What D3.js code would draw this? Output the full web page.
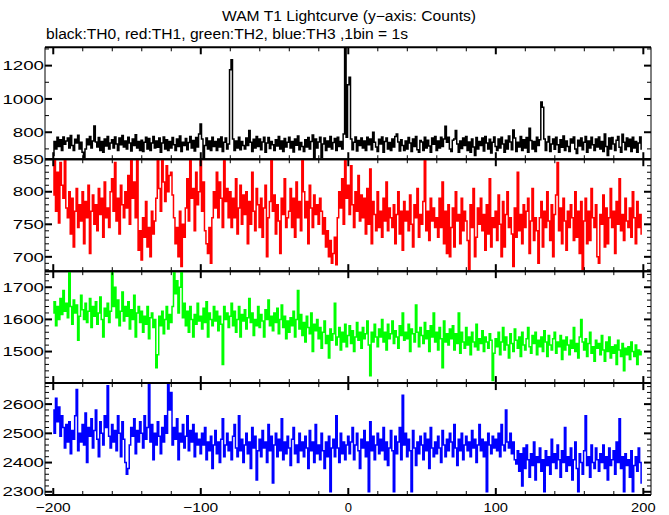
<!DOCTYPE html>
<html><head><meta charset="utf-8">
<script src="https://cdn.jsdelivr.net/npm/d3@7"></script>
<style>body{margin:0;background:#fff}svg{display:block}text{font-family:"Liberation Sans",Arial,Helvetica,sans-serif;fill:#000}</style>
</head><body>
<svg id="c" width="669" height="515"></svg>
<script>
const titleText = "WAM T1 Lightcurve (y\u2212axis: Counts)";
const subtitleText = "black:TH0, red:TH1, green:TH2, blue:TH3 ,1bin = 1s";
const binStart = -200, binSize = 1;
const xTickLabels = [-200, -100, 0, 100, 200];
const th0Labels = [800, 1000, 1200];
const th1Labels = [700, 750, 800, 850];
const th2Labels = [1500, 1600, 1700];
const th3Labels = [2300, 2400, 2500, 2600];

const th0 = [
660,745,700,770,715,755,690,772,728,748,
765,705,780,720,690,758,735,782,700,740,
680,648,700,760,725,775,705,748,838,742,
712,768,690,745,680,760,718,775,700,735,
755,705,772,730,690,765,725,780,712,748,
700,770,735,688,760,720,785,705,745,690,
752,685,740,770,700,762,690,735,775,705,
748,710,765,680,735,772,700,755,690,745,
705,768,725,690,760,715,778,685,740,720,
762,695,738,775,705,750,688,768,712,790,
850,760,644,720,765,700,748,690,770,715,
745,690,760,712,772,685,740,765,700,730,
1175,1235,760,690,748,705,770,695,745,720,
700,765,720,810,740,685,758,705,775,715,
760,695,742,770,680,735,768,702,745,725,
690,755,718,775,700,748,685,762,712,740,
770,705,745,682,760,722,778,695,738,715,
685,755,712,768,700,745,784,644,760,705,
742,770,650,730,765,690,748,712,775,700,
738,762,690,770,715,745,700,790,1420,770,
1085,1130,760,695,740,772,688,750,720,765,
705,748,690,770,725,760,695,800,740,712,
685,758,730,772,680,745,765,700,738,690,
760,712,775,790,742,688,755,720,690,748,
700,768,735,685,760,715,775,695,680,750,
742,690,770,705,752,718,680,765,728,775,
690,748,705,770,715,760,836,740,770,700,
685,752,760,810,730,680,748,702,765,720,
775,690,742,680,760,712,660,768,700,745,
720,765,688,775,735,700,758,675,740,772,
715,690,760,705,770,730,680,752,700,778,
742,695,814,765,685,740,712,775,690,755,
705,768,680,824,750,700,745,685,770,720,
755,982,950,760,690,742,775,685,730,760,
698,770,725,680,755,710,778,690,748,715,
685,760,735,772,700,672,752,718,765,695,
740,775,680,748,705,770,725,690,760,712,
772,700,745,685,790,715,660,765,700,768,
730,690,752,775,710,680,788,740,695,765,
715,758,685,770,705,745,680,735,772,700
];
const th1 = [
795,860,770,830,752,845,810,790,855,775,
760,800,735,790,715,770,805,745,780,755,
800,720,785,760,810,705,770,795,750,780,
740,805,765,790,730,815,760,775,745,800,
820,770,845,755,790,735,810,780,760,800,
775,825,750,860,790,815,760,855,710,740,
695,760,730,785,715,745,700,770,735,755,
790,850,805,770,860,815,785,840,800,825,
830,795,760,720,745,700,770,685,750,730,
775,820,755,850,790,805,740,830,780,800,
850,770,815,740,720,705,745,690,760,800,
775,830,760,815,790,745,850,785,805,760,
800,745,790,760,820,735,775,810,750,795,
765,800,720,785,750,830,770,740,805,780,
745,790,730,775,810,700,760,785,850,770,
795,735,780,755,705,790,765,820,745,760,
770,805,745,790,730,815,760,785,740,850,
800,760,785,720,810,775,745,795,765,780,
750,790,770,735,760,715,740,700,725,690,
705,730,688,760,800,775,820,750,860,790,
810,765,840,780,745,800,770,825,755,795,
760,790,735,805,750,835,720,785,765,740,
800,745,770,730,790,755,815,740,775,760,
745,780,720,765,800,735,770,710,785,755,
770,740,795,750,715,780,760,805,730,765,
750,785,850,740,770,725,790,755,775,745,
760,730,790,745,815,720,770,705,780,700,
745,775,715,800,755,765,720,790,740,770,
755,725,680,780,745,805,700,730,775,750,
790,740,765,710,780,735,820,715,760,745,
770,725,795,750,700,785,715,765,800,745,
760,735,685,775,730,830,740,765,720,780,
745,770,790,705,755,805,725,760,740,690,
760,785,715,770,745,800,755,725,780,700,
765,795,845,740,775,720,790,755,710,770,
745,780,760,725,800,730,770,705,785,680,
755,790,720,770,725,805,760,745,780,700,
690,765,750,795,715,775,720,760,805,745,
770,705,785,750,820,740,765,725,790,755,
745,775,730,800,760,720,785,745,765,735
];
const th2 = [
1620,1655,1580,1640,1600,1665,1615,1690,1625,1650,
1605,1745,1640,1585,1660,1620,1645,1535,1610,1675,
1630,1600,1650,1590,1625,1665,1575,1640,1610,1655,
1585,1620,1670,1600,1545,1635,1610,1650,1590,1625,
1750,1640,1700,1605,1660,1580,1625,1685,1595,1640,
1610,1655,1570,1630,1600,1675,1545,1620,1640,1590,
1625,1560,1610,1585,1640,1540,1605,1620,1575,1600,
1450,1490,1610,1580,1625,1555,1600,1640,1570,1615,
1590,1640,1745,1680,1720,1620,1700,1745,1605,1650,
1580,1625,1560,1640,1600,1545,1615,1585,1650,1595,
1610,1570,1635,1590,1655,1545,1620,1600,1580,1640,
1595,1625,1565,1610,1585,1460,1640,1600,1620,1575,
1610,1650,1580,1625,1560,1600,1640,1545,1615,1595,
1630,1570,1605,1665,1590,1620,1550,1600,1580,1640,
1575,1615,1595,1545,1630,1600,1660,1580,1610,1565,
1620,1590,1635,1555,1600,1645,1575,1610,1540,1595,
1560,1605,1580,1625,1545,1600,1690,1570,1615,1550,
1590,1530,1610,1575,1555,1620,1500,1585,1565,1600,
1540,1575,1510,1560,1595,1525,1550,1480,1570,1535,
1555,1650,1520,1545,1575,1505,1560,1530,1585,1515,
1550,1580,1525,1565,1500,1545,1590,1535,1560,1510,
1575,1540,1555,1595,1520,1425,1560,1530,1585,1545,
1515,1570,1545,1600,1530,1560,1505,1585,1540,1555,
1595,1525,1565,1545,1510,1580,1550,1620,1535,1560,
1540,1585,1500,1570,1555,1530,1645,1560,1515,1575,
1550,1525,1590,1540,1565,1500,1580,1545,1620,1530,
1560,1505,1575,1540,1450,1595,1530,1555,1520,1570,
1540,1580,1505,1555,1525,1620,1495,1560,1530,1510,
1575,1520,1545,1490,1560,1530,1515,1585,1505,1540,
1525,1565,1500,1545,1530,1510,1555,1535,1410,1495,
1540,1515,1560,1490,1530,1575,1505,1545,1520,1480,
1555,1525,1500,1570,1535,1510,1545,1485,1560,1520,
1505,1540,1575,1515,1495,1550,1525,1560,1490,1535,
1515,1545,1500,1565,1530,1485,1550,1520,1505,1540,
1560,1495,1530,1515,1550,1475,1535,1505,1545,1520,
1490,1535,1510,1575,1500,1525,1480,1545,1600,1530,
1505,1540,1485,1525,1560,1495,1515,1470,1535,1510,
1525,1490,1550,1505,1470,1530,1500,1545,1480,1515,
1495,1520,1460,1535,1505,1485,1525,1440,1510,1490,
1515,1475,1530,1500,1485,1520,1460,1505,1490,1500
];
const th3 = [
2580,2500,2620,2540,2590,2490,2560,2520,2450,2530,
2470,2540,2430,2510,2480,2560,2650,2440,2500,2470,
2530,2460,2570,2400,2520,2490,2550,2450,2510,2580,
2480,2420,2540,2500,2460,2560,2520,2663,2490,2450,
2530,2470,2510,2440,2560,2500,2420,2540,2480,2400,
2360,2380,2460,2520,2490,2550,2430,2510,2470,2540,
2500,2450,2560,2480,2520,2671,2470,2530,2410,2500,
2460,2540,2490,2430,2520,2470,2560,2500,2675,2580,
2640,2460,2520,2480,2550,2410,2500,2470,2530,2450,
2490,2560,2440,2510,2470,2530,2420,2500,2460,2480,
2430,2500,2460,2520,2410,2470,2440,2490,2380,2460,
2510,2430,2470,2400,2480,2550,2420,2460,2500,2440,
2470,2410,2490,2530,2450,2420,2560,2440,2480,2400,
2460,2500,2430,2470,2380,2520,2450,2490,2340,2440,
2480,2420,2510,2450,2470,2400,2530,2440,2490,2330,
2460,2500,2420,2480,2440,2550,2410,2470,2430,2490,
2450,2390,2480,2520,2430,2460,2400,2500,2440,2470,
2420,2490,2450,2380,2510,2440,2470,2400,2530,2430,
2460,2410,2500,2440,2380,2470,2420,2490,2300,2450,
2480,2420,2560,2450,2400,2500,2430,2470,2410,2460,
2490,2430,2470,2520,2410,2460,2500,2440,2380,2480,
2450,2510,2420,2470,2300,2540,2440,2490,2410,2460,
2500,2430,2480,2440,2520,2410,2470,2390,2450,2510,
2440,2300,2490,2430,2470,2520,2410,2630,2460,2500,
2420,2480,2440,2300,2510,2450,2390,2470,2430,2490,
2460,2410,2500,2440,2480,2380,2520,2450,2420,2470,
2430,2490,2450,2400,2510,2460,2420,2480,2440,2500,
2470,2420,2530,2450,2390,2480,2440,2500,2410,2460,
2490,2440,2470,2420,2510,2450,2480,2400,2460,2530,
2440,2480,2420,2470,2300,2500,2460,2430,2490,2450,
2480,2440,2500,2420,2530,2460,2440,2580,2470,2450,
2500,2430,2470,2410,2395,2440,2370,2430,2320,2450,
2380,2460,2410,2350,2430,2390,2470,2340,2420,2400,
2450,2370,2410,2300,2440,2390,2420,2360,2480,2400,
2430,2380,2460,2410,2350,2440,2400,2520,2370,2420,
2390,2450,2340,2410,2470,2380,2300,2430,2400,2360,
2440,2560,2390,2420,2350,2460,2400,2380,2450,2410,
2370,2430,2400,2460,2380,2420,2340,2450,2390,2410,
2440,2360,2470,2400,2550,2380,2420,2300,2430,2390,
2410,2350,2440,2300,2390,2420,2370,2450,2400,2330
];

const panels = [
  {values: th0, color: "#000000", domain: [638, 1310], major: 200, minor: 100, labels: th0Labels},
  {values: th1, color: "#ff0000", domain: [678, 850], major: 50, minor: 10, labels: th1Labels},
  {values: th2, color: "#00ff00", domain: [1402, 1750], major: 100, minor: 20, labels: th2Labels},
  {values: th3, color: "#0000ff", domain: [2289, 2672], major: 100, minor: 20, labels: th3Labels}
];

const svg = d3.select("#c");
const L = 45, R = 651, T = 47.3, B = 495;
const ph = (B - T) / panels.length;
const x = d3.scaleLinear().domain([-205.6, 205.2]).range([L, R]);

svg.append("text").attr("x", 349).attr("y", 21).attr("text-anchor", "middle")
  .attr("font-size", 14).attr("textLength", 254).attr("lengthAdjust", "spacingAndGlyphs").text(titleText);
svg.append("text").attr("x", 46).attr("y", 39)
  .attr("font-size", 14).attr("textLength", 362).attr("lengthAdjust", "spacingAndGlyphs").text(subtitleText);

const xMinor = d3.range(-200, 201, 20);
const defs = svg.append("defs");

panels.forEach((p, k) => {
  const top = T + k * ph, bot = top + ph;
  const y = d3.scaleLinear().domain(p.domain).range([bot, top]);
  defs.append("clipPath").attr("id", "clip" + k).append("rect")
    .attr("x", L).attr("y", top).attr("width", R - L).attr("height", ph);
  const line = d3.line()
    .x((d, i) => x(binStart + i * binSize))
    .y(d => y(d))
    .curve(d3.curveStep);
  svg.append("path").datum(p.values)
    .attr("clip-path", "url(#clip" + k + ")")
    .attr("fill", "none").attr("stroke", p.color).attr("stroke-width", 1.5)
    .attr("d", line);

  const g = svg.append("g").attr("stroke", "#000");
  g.append("line").attr("x1", L).attr("x2", R).attr("y1", top).attr("y2", top).attr("stroke-width", 2);
  g.append("line").attr("x1", L).attr("x2", R).attr("y1", bot).attr("y2", bot).attr("stroke-width", 2);
  g.append("line").attr("x1", L).attr("x2", L).attr("y1", top).attr("y2", bot).attr("stroke-width", 1);
  g.append("line").attr("x1", R).attr("x2", R).attr("y1", top).attr("y2", bot).attr("stroke-width", 1);

  const lo = Math.ceil(p.domain[0] / p.minor) * p.minor;
  d3.range(lo, p.domain[1] + 0.001, p.minor).forEach(v => {
    const isMaj = Math.abs(v / p.major - Math.round(v / p.major)) < 1e-6;
    const len = isMaj ? 7 : 4, yy = y(v);
    g.append("line").attr("x1", L).attr("x2", L + len).attr("y1", yy).attr("y2", yy).attr("stroke-width", isMaj ? 2 : 1);
    g.append("line").attr("x1", R).attr("x2", R - len).attr("y1", yy).attr("y2", yy).attr("stroke-width", isMaj ? 2 : 1);
  });
  xMinor.forEach(v => {
    const isMaj = v % 100 === 0;
    const len = isMaj ? 7 : 4, xx = x(v);
    g.append("line").attr("x1", xx).attr("x2", xx).attr("y1", top).attr("y2", top + len).attr("stroke-width", isMaj ? 2 : 1);
    g.append("line").attr("x1", xx).attr("x2", xx).attr("y1", bot).attr("y2", bot - len).attr("stroke-width", isMaj ? 2 : 1);
  });
  p.labels.forEach(v => {
    const s = String(v);
    svg.append("text").attr("x", 44).attr("y", y(v) + 4.7).attr("text-anchor", "end")
      .attr("font-size", 13).attr("textLength", s.length * 10.4).attr("lengthAdjust", "spacingAndGlyphs").text(s);
  });
});

xTickLabels.forEach(v => {
  const s = d3.format("d")(v);
  const t = svg.append("text").attr("x", x(v)).attr("y", 512.3).attr("text-anchor", "middle").attr("font-size", 13).text(s);
  if (s.length > 1) t.attr("textLength", v < 0 ? 35 : 24.5).attr("lengthAdjust", "spacingAndGlyphs");
});
</script>
</body></html>
